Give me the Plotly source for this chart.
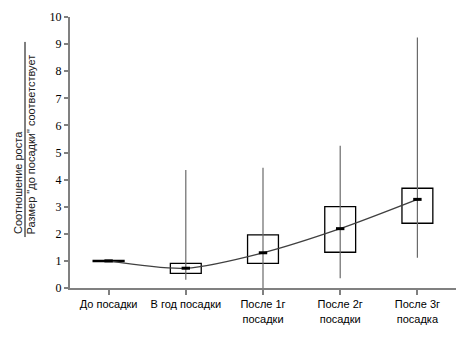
import plotly.graph_objects as go

categories = ["До посадки", "В год посадки", "После 1г<br>посадки", "После 2г<br>посадки", "После 3г<br>посадка"]
q1 = [0.97, 0.54, 0.91, 1.32, 2.39]
q3 = [1.02, 0.91, 1.96, 3.00, 3.68]
median = [1.00, 0.73, 1.30, 2.19, 3.27]
whisker_low = [1.00, 0.30, 0.00, 0.36, 1.12]
whisker_high = [1.00, 4.35, 4.44, 5.25, 9.24]
y_ticks = [0, 1, 2, 3, 4, 5, 6, 7, 8, 9, 10]

x = list(range(len(categories)))
gray = "#808080"

fig = go.Figure()
# boxes (interquartile range)
fig.add_trace(go.Bar(
    x=x, y=[b - a for a, b in zip(q1, q3)], base=q1, width=0.4,
    marker=dict(color="white", line=dict(color="black", width=1.3)),
    hoverinfo="skip", showlegend=False))
# whiskers
fig.add_trace(go.Scatter(
    x=x, y=median, mode="markers", marker=dict(size=0.1, color="rgba(0,0,0,0)"),
    error_y=dict(type="data", symmetric=False,
                 array=[h - m for h, m in zip(whisker_high, median)],
                 arrayminus=[m - l for m, l in zip(median, whisker_low)],
                 color="#6a6a6a", thickness=1.2, width=0),
    showlegend=False, hoverinfo="skip"))
# smoothed line through medians
fig.add_trace(go.Scatter(
    x=x, y=median, mode="lines", line=dict(color="#404040", width=1.3, shape="spline", smoothing=0.8),
    showlegend=False, hoverinfo="skip"))
# median markers
fig.add_trace(go.Scatter(
    x=x, y=median, mode="markers",
    marker=dict(symbol="line-ew", size=6, line=dict(color="black", width=3)),
    showlegend=False, hoverinfo="skip"))

fig.update_layout(
    template="none",
    width=470, height=342,
    margin=dict(l=62, r=22, t=9, b=62),
    plot_bgcolor="white", paper_bgcolor="white",
    xaxis=dict(
        automargin=False,
        tickmode="array", tickvals=x, ticktext=categories,
        range=[-0.5, 4.5], showgrid=False, zeroline=False,
        showline=True, linecolor=gray, linewidth=2,
        ticks="outside", tickson="boundaries", ticklen=5, tickcolor=gray, tickwidth=1.5,
        tickfont=dict(family="Liberation Sans Narrow, Liberation Sans, Arial", size=11, color="black"),
    ),
    yaxis=dict(
        automargin=False,
        range=[0, 10], tickvals=y_ticks, showgrid=False, zeroline=False,
        showline=True, linecolor=gray, linewidth=2,
        ticks="outside", ticklen=4, tickcolor=gray, tickwidth=1.5,
        tickfont=dict(family="Liberation Serif, Times New Roman", size=12, color="black"),
    ),
    annotations=[
        dict(text="Соотношение роста", textangle=-90, xref="paper", yref="y",
             x=(18 - 70) / 386, y=1.9, xanchor="center", yanchor="bottom",
             showarrow=False, font=dict(family="Liberation Sans, Arial", size=11, color="#202020")),
        dict(text="Размер \"до посадки\" соответствует", textangle=-90, xref="paper", yref="y",
             x=(31 - 70) / 386, y=1.9, xanchor="center", yanchor="bottom",
             showarrow=False, font=dict(family="Liberation Sans, Arial", size=11, color="#202020")),
    ],
    shapes=[
        dict(type="line", xref="paper", yref="y", x0=(25 - 70) / 386, x1=(25 - 70) / 386,
             y0=1.88, y1=9.08, line=dict(color="black", width=1)),
    ],
)

fig.write_html("out.html")
